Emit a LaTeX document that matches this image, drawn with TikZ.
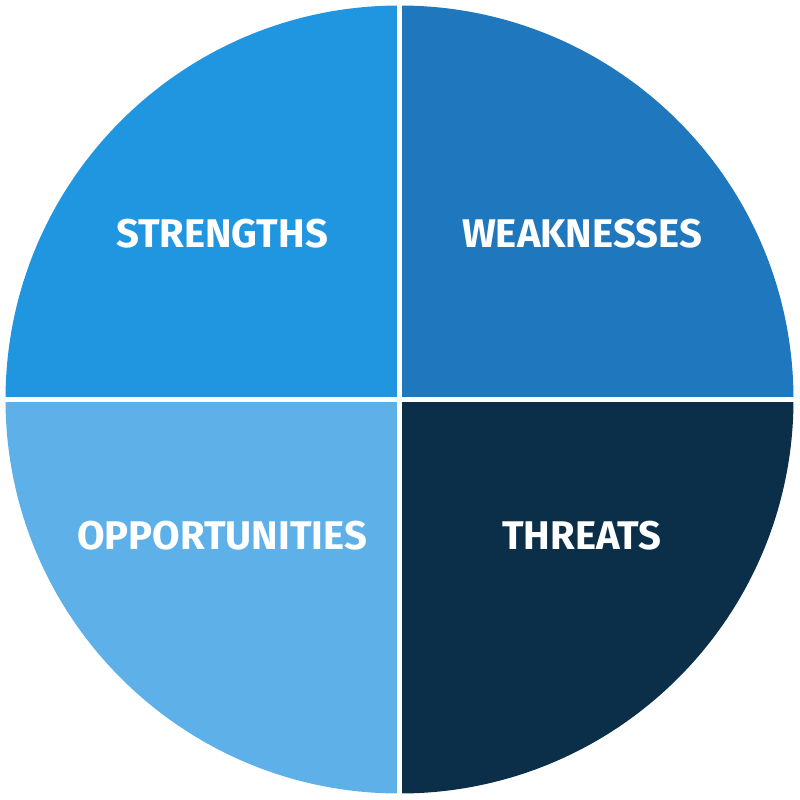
\documentclass[tikz,border=0pt]{standalone}
\usepackage{fontspec}
\setmainfont{Fira Sans}
\definecolor{cS}{HTML}{2196E0}
\definecolor{cW}{HTML}{1F77BD}
\definecolor{cO}{HTML}{5EB1E8}
\definecolor{cT}{HTML}{0B2F48}
\begin{document}
\begin{tikzpicture}[x=1pt,y=-1pt,
  lbl/.style={text=white,font=\fontsize{40}{40}\selectfont\bfseries,anchor=center}]
\useasboundingbox[fill=white] (0,0) rectangle (800,800);
\coordinate (c) at (399.5,399.5);
\def\R{394}
\begin{scope}
\clip (0,0) rectangle (399.5,399.5);
\fill[cS] (c) circle (\R);
\end{scope}
\begin{scope}
\clip (399.5,0) rectangle (800,399.5);
\fill[cW] (c) circle (\R);
\end{scope}
\begin{scope}
\clip (0,399.5) rectangle (399.5,800);
\fill[cO] (c) circle (\R);
\end{scope}
\begin{scope}
\clip (399.5,399.5) rectangle (800,800);
\fill[cT] (c) circle (\R);
\end{scope}
\draw[white,line width=4.5] (399.5,0) -- (399.5,800);
\draw[white,line width=4.5] (0,399.5) -- (800,399.5);
\node[lbl] (s) at (222,234) {STRENGTHS};
\node[lbl] (w) at (582,234) {WEAKNESSES};
\node[lbl] (o) at (222,536) {OPPORTUNITIES};
\node[lbl] (t) at (582,536) {THREATS};
\end{tikzpicture}
\end{document}
